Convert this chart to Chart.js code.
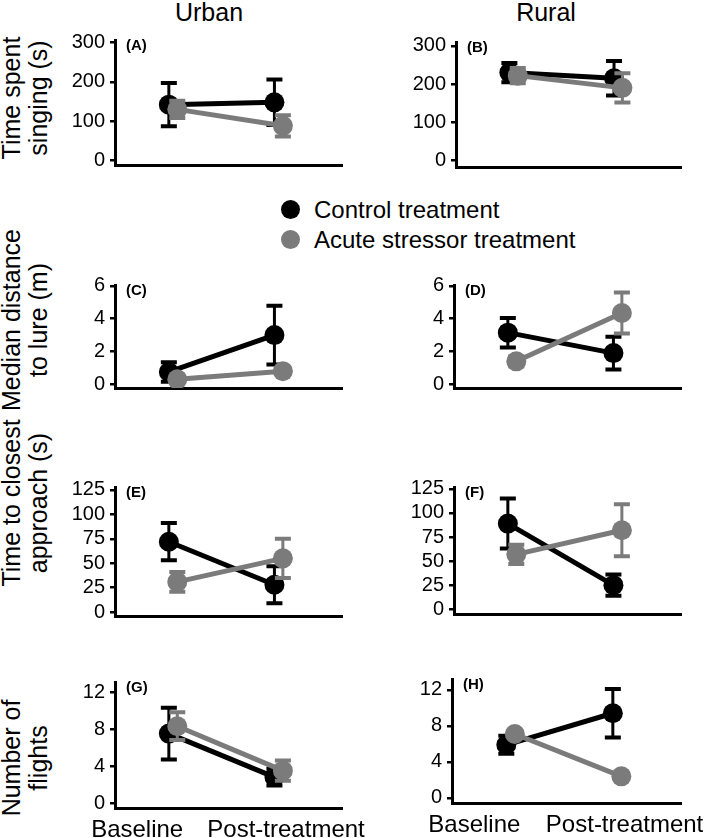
<!DOCTYPE html>
<html>
<head>
<meta charset="utf-8">
<script src="https://cdn.jsdelivr.net/npm/chart.js@4/dist/chart.umd.min.js"></script>
<style>
  body { margin: 0; background: #fff; font-family: "Liberation Sans", Arial, sans-serif; color: #000; }
  #page { position: relative; width: 709px; height: 838px; overflow: hidden; background: #fff; }
  #page canvas { position: absolute; }
  .colTitle { position: absolute; top: 0; width: 200px; font-size: 25px; line-height: 25px; text-align: center; }
  .ytitle { position: absolute; width: 240px; height: 54px; font-size: 25px; line-height: 27px; text-align: center; transform: rotate(-90deg); white-space: nowrap; }
  .legend { position: absolute; left: 281px; top: 195px; font-size: 24px; line-height: 30px; white-space: nowrap; }
  .legend span.dot { display: inline-block; width: 19px; height: 19px; border-radius: 50%; margin-right: 14px; vertical-align: -1px; }
</style>
</head>
<body>
<div id="page">
  <div class="colTitle" style="left:109px">Urban</div>
  <div class="colTitle" style="left:446px">Rural</div>
  <div class="legend">
    <div><span class="dot" style="background:#000"></span>Control treatment</div>
    <div><span class="dot" style="background:#7b7b7b"></span>Acute stressor treatment</div>
  </div>
  <div class="ytitle" style="left:-95px; top:71px">Time spent<br>singing (s)</div>
  <div class="ytitle" style="left:-95px; top:293px">Median distance<br>to lure (m)</div>
  <div class="ytitle" style="left:-95px; top:476px">Time to closest<br>approach (s)</div>
  <div class="ytitle" style="left:-95px; top:731px">Number of<br>flights</div>
</div>

<script>
const categories = ['Baseline', 'Post-treatment'];
const seriesNames = ['Control treatment', 'Acute stressor treatment'];

// time spent singing (s)
const singUrbanControl = [142, 148];
const singUrbanControlErr = [55, 58];
const singUrbanStress = [130, 88];
const singUrbanStressErr = [22, 27];
const singRuralControl = [230, 215];
const singRuralControlErr = [25, 45];
const singRuralStress = [222, 190];
const singRuralStressErr = [20, 38];

// median distance to lure (m)
const distUrbanControl = [0.75, 3.0];
const distUrbanControlErr = [0.6, 1.8];
const distUrbanStress = [0.3, 0.8];
const distUrbanStressErr = [0.15, 0.2];
const distRuralControl = [3.15, 1.9];
const distRuralControlErr = [0.9, 1.0];
const distRuralStress = [1.4, 4.35];
const distRuralStressErr = [0.3, 1.25];

// time to closest approach (s)
const appUrbanControl = [72, 28];
const appUrbanControlErr = [19, 19];
const appUrbanStress = [31, 55];
const appUrbanStressErr = [10, 20];
const appRuralControl = [89, 25];
const appRuralControlErr = [26, 11];
const appRuralStress = [57, 82];
const appRuralStressErr = [10, 27];

// number of flights
const flyUrbanControl = [7.5, 2.8];
const flyUrbanControlErr = [2.8, 0.9];
const flyUrbanStress = [8.3, 3.5];
const flyUrbanStressErr = [1.5, 1.1];
const flyRuralControl = [5.9, 9.4];
const flyRuralControlErr = [1.0, 2.7];
const flyRuralStress = [7.1, 2.4];
const flyRuralStressErr = [0.4, 0.3];

const singTicks = [0, 100, 200, 300];
const distTicks = [0, 2, 4, 6];
const appTicks = [0, 25, 50, 75, 100, 125];
const flyTicks = [0, 4, 8, 12];

const BLACK = '#000000';
const GREY = '#7b7b7b';
const FONT = '"Liberation Sans", Arial, sans-serif';

// area = [left, right, top, bottom] in page pixels
const panels = [
  {tag: '(A)', col: 0, area: [115, 342, 40, 171], y: [-12, 307], ticks: singTicks,
   c: singUrbanControl, ce: singUrbanControlErr, s: singUrbanStress, se: singUrbanStressErr},
  {tag: '(B)', col: 1, area: [456, 681, 42, 173], y: [-17, 310], ticks: singTicks,
   c: singRuralControl, ce: singRuralControlErr, s: singRuralStress, se: singRuralStressErr},
  {tag: '(C)', col: 0, area: [115, 342, 285, 394], y: [-0.23, 6.06], ticks: distTicks,
   c: distUrbanControl, ce: distUrbanControlErr, s: distUrbanStress, se: distUrbanStressErr},
  {tag: '(D)', col: 1, area: [454, 681, 285, 394], y: [-0.23, 6.06], ticks: distTicks,
   c: distRuralControl, ce: distRuralControlErr, s: distRuralStress, se: distRuralStressErr},
  {tag: '(E)', col: 0, area: [115, 342, 487, 622], y: [-3.9, 127.9], ticks: appTicks,
   c: appUrbanControl, ce: appUrbanControlErr, s: appUrbanStress, se: appUrbanStressErr},
  {tag: '(F)', col: 1, area: [454, 681, 487, 620], y: [-5, 127], ticks: appTicks,
   c: appRuralControl, ce: appRuralControlErr, s: appRuralStress, se: appRuralStressErr},
  {tag: '(G)', col: 0, area: [115, 342, 682, 808], y: [-0.54, 13.08], ticks: flyTicks, bottom: true,
   c: flyUrbanControl, ce: flyUrbanControlErr, s: flyUrbanStress, se: flyUrbanStressErr},
  {tag: '(H)', col: 1, area: [452, 681, 679, 803], y: [-0.56, 13.2], ticks: flyTicks, bottom: true,
   c: flyRuralControl, ce: flyRuralControlErr, s: flyRuralStress, se: flyRuralStressErr}
];

const errorBars = {
  id: 'errorBars',
  beforeDatasetDraw(chart, args) {
    const ds = chart.data.datasets[args.index];
    if (!ds.errors) return;
    const yScale = chart.scales.y;
    const ctx = chart.ctx;
    ctx.save();
    ctx.strokeStyle = ds.borderColor;
    args.meta.data.forEach((pt, i) => {
      const v = ds.data[i].y;
      const e = ds.errors[i];
      const yTop = yScale.getPixelForValue(v + e);
      const yBot = yScale.getPixelForValue(v - e);
      ctx.lineWidth = 3;
      ctx.beginPath();
      ctx.moveTo(pt.x, yTop);
      ctx.lineTo(pt.x, yBot);
      ctx.stroke();
      ctx.lineWidth = 4;
      ctx.beginPath();
      ctx.moveTo(pt.x - 8, yTop);
      ctx.lineTo(pt.x + 8, yTop);
      ctx.moveTo(pt.x - 8, yBot);
      ctx.lineTo(pt.x + 8, yBot);
      ctx.stroke();
    });
    ctx.restore();
  }
};

const panelTag = {
  id: 'panelTag',
  afterDraw(chart, args, opts) {
    const ctx = chart.ctx;
    ctx.save();
    ctx.font = 'bold 15px ' + FONT;
    ctx.fillStyle = '#000';
    ctx.textBaseline = 'middle';
    ctx.fillText(opts.text, chart.chartArea.left + 11, chart.chartArea.top + 6);
    ctx.restore();
  }
};

function points(values, shift) {
  return values.map((v, i) => ({x: i + 1 + shift, y: v}));
}

function makePanel(p) {
  const page = document.getElementById('page');
  const colLeft = p.col === 0 ? 0 : 360;
  // bottom-left label "Post-treatment" runs a little past the column edge
  const colWidth = p.col === 0 ? (p.bottom ? 380 : 360) : 349;
  const xh = p.bottom ? 30 : 4;
  const padTop = 15;
  const top = p.area[2] - padTop;

  const cv = document.createElement('canvas');
  cv.width = colWidth;
  cv.height = p.area[3] - top + xh;
  cv.style.left = colLeft + 'px';
  cv.style.top = top + 'px';
  page.appendChild(cv);

  new Chart(cv, {
    type: 'line',
    data: {
      datasets: [
        {
          label: seriesNames[0], data: points(p.c, -0.04), errors: p.ce, order: 1,
          borderColor: BLACK, backgroundColor: BLACK, borderWidth: 5,
          pointRadius: 10, pointBorderWidth: 0, pointBackgroundColor: BLACK
        },
        {
          label: seriesNames[1], data: points(p.s, 0.04), errors: p.se, order: 0,
          borderColor: GREY, backgroundColor: GREY, borderWidth: 5,
          pointRadius: 10, pointBorderWidth: 0, pointBackgroundColor: GREY
        }
      ]
    },
    options: {
      responsive: false,
      animation: false,
      devicePixelRatio: 1,
      layout: {padding: {top: padTop, right: colLeft + colWidth - p.area[1], bottom: 0, left: 0}},
      plugins: {legend: {display: false}, tooltip: {enabled: false}, panelTag: {text: p.tag}},
      scales: {
        x: {
          type: 'linear', min: 0.45, max: 2.6,
          grid: {display: false, drawTicks: false},
          border: {display: true, color: '#000', width: 3},
          ticks: {
            display: !!p.bottom, autoSkip: false, maxRotation: 0, padding: 8,
            color: '#000', font: {family: FONT, size: 24},
            callback: (v, i) => categories[i]
          },
          afterBuildTicks: s => { s.ticks = [0.66, 2.07].map(v => ({value: v})); },
          afterFit: s => { s.height = xh; s.paddingLeft = 0; s.paddingRight = 0; }
        },
        y: {
          min: p.y[0], max: p.y[1],
          grid: {display: true, drawOnChartArea: false, drawTicks: true, tickLength: 5, color: '#000', lineWidth: 2.5},
          border: {display: true, color: '#000', width: 3},
          ticks: {autoSkip: false, padding: 5, color: '#000', font: {family: FONT, size: 20}},
          afterBuildTicks: s => { s.ticks = p.ticks.map(v => ({value: v})); },
          afterFit: s => { s.width = p.area[0] - colLeft; s.paddingTop = 0; s.paddingBottom = 0; }
        }
      }
    },
    plugins: [errorBars, panelTag]
  });
}

panels.forEach(makePanel);
</script>
</body>
</html>
